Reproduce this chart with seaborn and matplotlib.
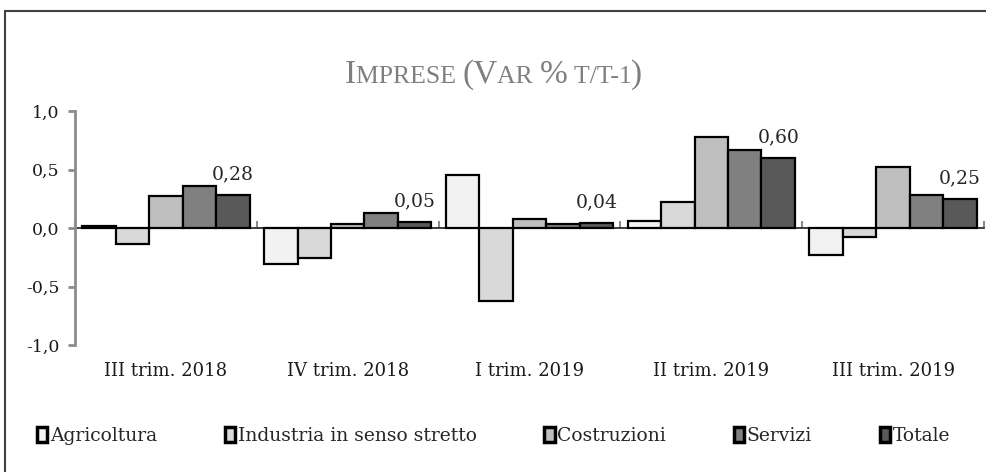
import numpy as np
import pandas as pd
import matplotlib
matplotlib.use("Agg")
import matplotlib.pyplot as plt
from matplotlib.lines import Line2D
from matplotlib.patches import Patch
from matplotlib.ticker import FuncFormatter
from matplotlib.offsetbox import TextArea, HPacker, AnchoredOffsetbox
import seaborn as sns

####################################################################################
## DATA
####################################################################################
periodi = ["III trim. 2018", "IV trim. 2018", "I trim. 2019", "II trim. 2019", "III trim. 2019"]
settori = ["Agricoltura", "Industria in senso stretto", "Costruzioni", "Servizi", "Totale"]

agricoltura = [0.02, -0.31, 0.45, 0.06, -0.23]
industria = [-0.14, -0.26, -0.62, 0.22, -0.08]
costruzioni = [0.27, 0.03, 0.08, 0.78, 0.52]
servizi = [0.36, 0.13, 0.03, 0.67, 0.28]
totale = [0.28, 0.05, 0.04, 0.60, 0.25]

colori = ["#f2f2f2", "#d9d9d9", "#bfbfbf", "#808080", "#595959"]

df = pd.DataFrame({
    "periodo": periodi * 5,
    "settore": np.repeat(settori, 5),
    "valore": agricoltura + industria + costruzioni + servizi + totale,
})

####################################################################################
## Viz
####################################################################################
sns.set_theme(style="white")
plt.rcParams["font.family"] = ["DejaVu Serif"]

fig = plt.figure(figsize=(9.87, 4.72), dpi=100)
ax = fig.add_axes([75 / 987, 1 - 345 / 472, (984 - 75) / 987, (345 - 111) / 472])

sns.barplot(
    data=df, x="periodo", y="valore", hue="settore",
    order=periodi, hue_order=settori, palette=colori,
    edgecolor="black", linewidth=1.6, width=0.92, ax=ax,
)
ax.get_legend().remove()

ax.set_xlim(-0.5, 4.5)
ax.set_ylim(-1, 1)
ax.set_yticks([-1, -0.5, 0, 0.5, 1])
ax.yaxis.set_major_formatter(FuncFormatter(lambda v, p: f"{v:.1f}".replace(".", ",")))
ax.set_xlabel("")
ax.set_ylabel("")

for s in ["top", "right", "bottom"]:
    ax.spines[s].set_visible(False)
ax.spines["left"].set_color("#8c8c8c")
ax.spines["left"].set_linewidth(2)
ax.tick_params(axis="y", direction="out", length=5, width=2, color="#8c8c8c",
               labelsize=12.5, labelcolor="#1a1a1a", left=True, pad=6)
ax.tick_params(axis="x", length=0, labelsize=13, labelcolor="#1a1a1a", pad=12)

# zero line with group boundary ticks
zero = ax.secondary_xaxis(0.5)
zero.set_xticks(np.arange(-0.5, 5, 1))
zero.set_xticklabels([])
zero.spines["bottom"].set_color("#8c8c8c")
zero.spines["bottom"].set_linewidth(2)
zero.tick_params(direction="out", length=5, width=1.5, color="#8c8c8c")
ax.set_zorder(1)

# data labels on Totale
tot_bars = ax.containers[4]
for bar, v in zip(tot_bars, totale):
    ax.text(bar.get_x() + bar.get_width() / 2, v + 0.1, f"{v:.2f}".replace(".", ","),
            ha="center", va="bottom", fontsize=13.5, color="#262626")

# title in small caps
big, small = 24, 18.5
pezzi = [("I", big), ("MPRESE ", small), ("(V", big), ("AR ", small), ("%", big),
         (" T/T-1", small), (")", big)]
areas = [TextArea(t, textprops=dict(fontsize=s, color="#7f7f7f", family="Liberation Serif"))
         for t, s in pezzi]
box = HPacker(children=areas, align="baseline", pad=0, sep=0)
fig.add_artist(AnchoredOffsetbox(loc="center", child=box, frameon=False, pad=0, borderpad=0,
                                 bbox_to_anchor=(0.5, 1 - 75 / 472),
                                 bbox_transform=fig.transFigure))

handles = [Patch(facecolor=c, edgecolor="black", linewidth=2.5) for c in colori]
fig.legend(handles, settori, loc="center", bbox_to_anchor=(0.5, 1 - 436 / 472), ncol=5,
           frameon=False, fontsize=13.5, handlelength=0.55, handleheight=0.85,
           handletextpad=0.15, columnspacing=3.6)

# outer frame
fig.add_artist(Line2D([5 / 987, 5 / 987], [0, 1 - 11 / 472], transform=fig.transFigure,
                      color="#404040", lw=1.5))
fig.add_artist(Line2D([5 / 987, 1], [1 - 11 / 472, 1 - 11 / 472], transform=fig.transFigure,
                      color="#404040", lw=1.5))

fig.savefig("out.png", dpi=100)
